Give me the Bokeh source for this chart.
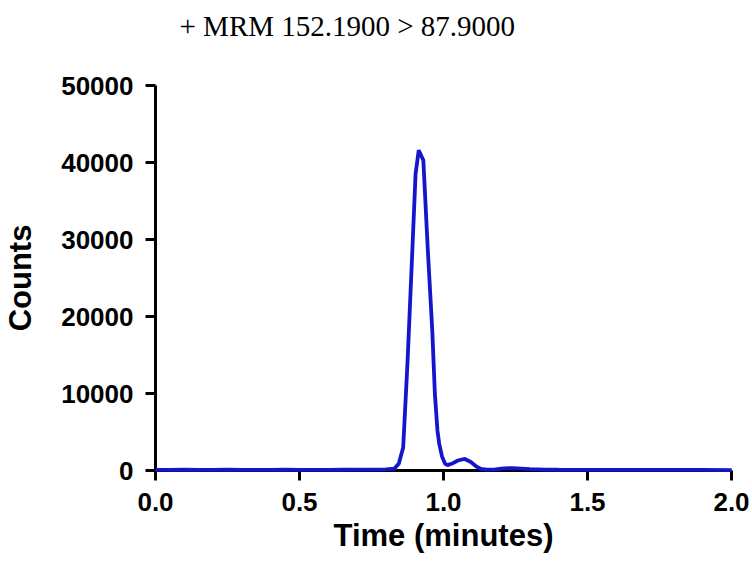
from bokeh.plotting import figure
from bokeh.models import FixedTicker, PrintfTickFormatter, Range1d, Title
from bokeh.embed import file_html
from bokeh.resources import INLINE

# Data
time_min = [0.00, 0.05, 0.10, 0.15, 0.20, 0.25, 0.30, 0.35, 0.40, 0.45, 0.50,
            0.55, 0.60, 0.65, 0.70, 0.75, 0.80, 0.83, 0.845, 0.86, 0.875, 0.89,
            0.903, 0.914, 0.93, 0.945, 0.961, 0.97, 0.979, 0.985, 0.995, 1.005,
            1.014, 1.03, 1.05, 1.074, 1.095, 1.115, 1.13, 1.15, 1.18, 1.21,
            1.24, 1.27, 1.30, 1.35, 1.40, 1.50, 1.60, 1.70, 1.80, 1.90, 2.00]
counts = [80, 90, 110, 90, 80, 100, 90, 80, 90, 100, 90,
          80, 90, 100, 110, 120, 150, 250, 900, 3000, 14000, 27000,
          38500, 41600, 40300, 29000, 18200, 10000, 5200, 3500, 1800, 900,
          700, 900, 1300, 1500, 1100, 500, 200, 110, 150, 270,
          320, 250, 180, 120, 100, 90, 80, 80, 70, 70, 60]

x_ticks = [0.0, 0.5, 1.0, 1.5, 2.0]
y_ticks = [0, 10000, 20000, 30000, 40000, 50000]
title_text = "+ MRM 152.1900 > 87.9000"
x_label = "Time (minutes)"
y_label = "Counts"

p = figure(width=752, height=563, output_backend="svg", toolbar_location=None,
           x_range=Range1d(0, 2), y_range=Range1d(0, 50000),
           min_border_left=154, min_border_right=21, min_border_top=85,
           min_border_bottom=93)

p.title.text = title_text
p.title.text_font = "Liberation Serif"
p.title.text_font_size = "29px"
p.title.text_font_style = "normal"
p.title.text_color = "black"
p.title.align = "left"
p.title.offset = 24
p.title.standoff = 0

# empty spacer between the title and the plot frame
p.add_layout(Title(text=" ", text_font_size="30px", standoff=9), "above")

p.xgrid.visible = False
p.ygrid.visible = False
p.outline_line_color = None
p.background_fill_color = "white"
p.border_fill_color = "white"

for ax in (p.xaxis[0], p.yaxis[0]):
    ax.axis_line_width = 3
    ax.axis_line_color = "black"
    ax.major_tick_line_width = 3
    ax.major_tick_line_color = "black"
    ax.major_tick_out = 10
    ax.major_tick_in = 0
    ax.minor_tick_out = 0
    ax.minor_tick_in = 0
    ax.major_label_text_font = "Liberation Sans"
    ax.major_label_text_font_style = "bold"
    ax.major_label_text_font_size = "26px"
    ax.major_label_text_color = "black"
    ax.major_label_standoff = 12
    ax.axis_label_text_font = "Liberation Sans"
    ax.axis_label_text_font_style = "bold"
    ax.axis_label_text_font_size = "31px"
    ax.axis_label_text_color = "black"

p.xaxis[0].ticker = FixedTicker(ticks=x_ticks)
p.xaxis[0].formatter = PrintfTickFormatter(format="%.1f")
p.xaxis[0].axis_label = x_label
p.xaxis[0].axis_label_standoff = 4

p.yaxis[0].ticker = FixedTicker(ticks=y_ticks)
p.yaxis[0].formatter = PrintfTickFormatter(format="%d")
p.yaxis[0].axis_label = y_label
p.yaxis[0].axis_label_standoff = 20

p.line(time_min, counts, line_color="#1515cc", line_width=3.8, level="overlay")

open("out.html", "w").write(file_html(p, INLINE))
